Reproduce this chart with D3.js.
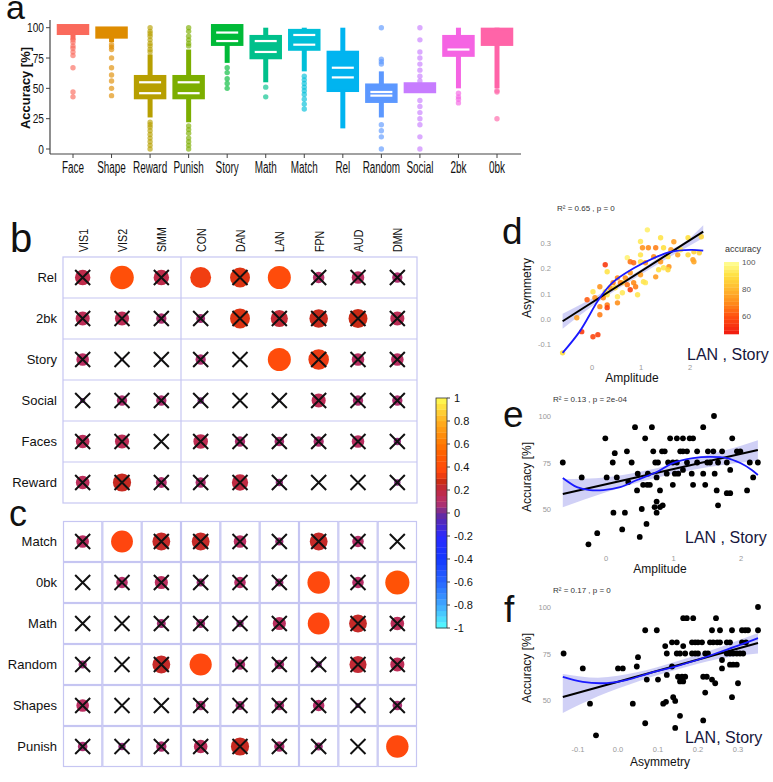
<!DOCTYPE html>
<html lang="en">
<head>
<meta charset="UTF-8">
<title>Task accuracy and network correlations</title>
<script src="https://d3js.org/d3.v7.min.js"></script>
<style>
  body { margin: 0; background: #fff; font-family: "Liberation Sans", Arial, sans-serif; }
  svg { display: block; }
</style>
</head>
<body>
<svg id="fig" width="773" height="782"></svg>
<script>
// ---- panel a: accuracy per task (box stats, in %)
const tasks = ['Face', 'Shape', 'Reward', 'Punish', 'Story', 'Math', 'Match', 'Rel', 'Random', 'Social', '2bk', '0bk'];
const taskColors = ['#FA6A5C', '#DE8C00', '#B79F00', '#7CAE00', '#00BA38', '#00C08B', '#00BFD8', '#00B4F0', '#5C98FF', '#C77CFF', '#F564E3', '#FF64A8'];
const boxQ1 = [95, 92, 42, 42, 86, 75, 82, 48, 39, 47, 77, 86];
const boxQ3 = [102, 100, 60, 60, 102, 93, 98, 80, 53, 54, 93, 99];
const whiskLo = [90, 88, 26, 22, 71, 55, 64, 17, 26, 47, 50, 50];
const whiskHi = [100, 100, 78, 82, 100, 100, 100, 100, 64, 54, 100, 100];
const notchHi = [null, null, 55, 55, 96, 89, 94, 67, 47, null, 82, null];
const notchLo = [null, null, 46, 46, 89, 80, 86, 59, 44, null, null, null];
const outliers = [
  [90, 88, 85, 83, 80, 77, 67, 47, 43],
  [86, 84, 82, 75, 67, 61, 56, 50, 44],
  [100, 97, 95, 93, 90, 87, 85, 82, 80, 22, 20, 18, 15, 12, 9, 6, 3, 0],
  [100, 97, 93, 90, 87, 85, 19, 16, 13, 9, 6, 3, 0],
  [67, 63, 58, 54, 50],
  [51, 43],
  [60, 57, 54, 51, 48, 45, 41, 37, 33],
  [],
  [100, 74, 72, 70, 20, 15, 10, 0],
  [100, 90, 80, 75, 70, 65, 60, 56, 40, 35, 30, 25, 20, 10, 0],
  [46, 43, 41, 38],
  [48, 47, 25]
];
const accTicks = [0, 25, 50, 75, 100];

// ---- panels b, c: correlation of network measure with task accuracy
const nets = ['VIS1', 'VIS2', 'SMM', 'CON', 'DAN', 'LAN', 'FPN', 'AUD', 'DMN'];
const rowsB = ['Rel', '2bk', 'Story', 'Social', 'Faces', 'Reward'];
const rowsC = ['Match', '0bk', 'Math', 'Random', 'Shapes', 'Punish'];
const corrB = [
  [0.18, 0.42, 0.18, 0.33, 0.30, 0.40, 0.10, 0.12, 0.08],
  [0.15, 0.15, 0.08, 0.06, 0.30, 0.22, 0.26, 0.27, 0.15],
  [0.12, 0.01, 0.01, 0.08, 0.00, 0.40, 0.32, 0.12, 0.12],
  [0.02, 0.08, 0.08, 0.03, 0.00, 0.01, 0.15, 0.08, 0.08],
  [0.14, 0.15, 0.00, 0.16, 0.08, 0.07, 0.08, 0.12, 0.04],
  [0.14, 0.25, 0.09, 0.08, 0.20, 0.04, 0.00, 0.00, 0.03]
];
const sigB = [
  [0, 1, 0, 1, 0, 1, 0, 0, 0],
  [0, 0, 0, 0, 0, 0, 0, 0, 0],
  [0, 0, 0, 0, 0, 1, 0, 0, 0],
  [0, 0, 0, 0, 0, 0, 0, 0, 0],
  [0, 0, 0, 0, 0, 0, 0, 0, 0],
  [0, 0, 0, 0, 0, 0, 0, 0, 0]
];
const corrC = [
  [0.12, 0.36, 0.24, 0.24, 0.12, 0.05, 0.24, 0.10, 0.00],
  [0.00, 0.10, 0.13, 0.05, 0.10, 0.05, 0.38, 0.10, 0.44],
  [0.00, 0.00, 0.06, 0.06, 0.04, 0.13, 0.36, 0.24, 0.14],
  [0.05, 0.00, 0.24, 0.37, 0.08, 0.07, 0.03, 0.22, 0.15],
  [0.12, 0.00, 0.00, 0.07, 0.06, 0.07, 0.10, 0.02, 0.07],
  [0.07, 0.04, 0.08, 0.14, 0.25, 0.08, 0.05, 0.00, 0.38]
];
const sigC = [
  [0, 1, 0, 0, 0, 0, 0, 0, 0],
  [0, 0, 0, 0, 0, 0, 1, 0, 1],
  [0, 0, 0, 0, 0, 0, 1, 0, 0],
  [0, 0, 0, 1, 0, 0, 0, 0, 0],
  [0, 0, 0, 0, 0, 0, 0, 0, 0],
  [0, 0, 0, 0, 0, 0, 0, 0, 1]
];
const barTicks = [1, 0.8, 0.6, 0.4, 0.2, 0, -0.2, -0.4, -0.6, -0.8, -1];

// ---- panel d: LAN amplitude vs asymmetry, coloured by Story accuracy
const dAmp = [1.13, 0.99, 1.40, 1.67, 1.96, 2.23, 1.03, 1.15, 1.30, 1.46, 1.61, 1.81, 2.08, 0.99, 1.26, 1.55, 1.75, 1.96, 0.72, 0.78, 0.85, 0.99, 1.09, 1.40, 1.57, 2.06, 2.19, 0.27, 0.31, 0.52, 0.78, 0.99, 1.30, 1.46, 0.43, 0.62, 0.72, 0.85, 0.89, 1.09, 0.16, 0.37, 0.47, 0.02, 0.31, 0.52, 0.23, -0.10, 0.06, 0.31, 0.52, 0.16, 0.31, -0.31, 0.16, -0.21, 0.02, 0.12, -0.60, 0.58, 0.68, 1.05, 0.27, 0.62, 0.78, 0.93, 1.36, 1.55, 2.08];
const dAsym = [0.352, 0.306, 0.321, 0.305, 0.321, 0.325, 0.281, 0.281, 0.281, 0.281, 0.273, 0.273, 0.265, 0.253, 0.246, 0.246, 0.253, 0.253, 0.242, 0.226, 0.222, 0.226, 0.222, 0.226, 0.206, 0.234, 0.261, 0.214, 0.186, 0.162, 0.182, 0.174, 0.166, 0.202, 0.143, 0.143, 0.135, 0.143, 0.127, 0.143, 0.127, 0.123, 0.123, 0.107, 0.095, 0.087, 0.083, 0.075, 0.083, 0.055, 0.063, 0.048, 0.044, 0.004, 0.016, -0.051, -0.071, -0.063, -0.135, 0.143, 0.162, 0.147, 0.107, 0.103, 0.115, 0.095, 0.194, 0.194, 0.226];
const dAcc = [95, 93, 91, 74, 90, 88, 72, 70, 68, 90, 75, 92, 86, 92, 70, 90, 76, 88, 96, 66, 65, 91, 72, 73, 72, 75, 86, 55, 91, 70, 73, 74, 74, 92, 68, 91, 66, 70, 68, 93, 72, 74, 89, 92, 91, 94, 70, 62, 72, 68, 71, 70, 57, 74, 68, 55, 58, 57, 90, 69, 72, 92, 90, 93, 57, 92, 90, 88, 76];
const dFitX = [-0.6, 2.27];
const dFitY = [-0.01, 0.345];
const dLoessX = [-0.6, -0.25, 0.16, 0.43, 0.85, 1.26, 1.6, 2.02, 2.27];
const dLoessY = [-0.135, -0.05, 0.083, 0.145, 0.2, 0.24, 0.265, 0.273, 0.27];
const dBandX = [-0.6, 0, 0.5, 1, 1.5, 2, 2.27];
const dBandLo = [-0.04, 0.05, 0.115, 0.175, 0.235, 0.29, 0.32];
const dBandHi = [0.02, 0.08, 0.137, 0.195, 0.26, 0.32, 0.37];
const accLegendTicks = [100, 80, 60];

// ---- panel e: LAN amplitude vs Story accuracy
const eAmp = [1.60, 0.43, 0.68, 1.44, -0.01, 0.58, 0.95, 1.05, 1.14, 1.24, 1.29, 1.87, 0.13, 0.31, 0.70, 0.83, 0.87, 1.10, 1.14, 1.20, 1.35, 1.51, 1.59, 1.72, 1.94, 1.99, -0.64, 0.10, 0.38, 0.73, 0.77, 0.92, 0.99, 1.05, 1.20, 1.35, 1.50, 1.54, 1.66, 1.79, 2.13, 2.25, -0.36, 0.01, 0.16, 0.33, 0.47, 0.62, 0.75, 0.90, 1.02, 1.07, 1.14, 1.27, 1.44, 1.61, 1.84, 2.18, 0.46, 0.55, 0.61, 0.65, 0.80, 0.99, 1.29, 1.47, 1.64, 1.79, 1.84, 2.09, 0.75, 0.72, 0.80, 1.66, 0.11, 0.28, 0.53, 0.75, 0.84, 0.24, -0.13, -0.26, 0.50, 0.60];
const eAcc = [100, 94, 94, 94, 88, 88, 88, 88, 88, 88, 88, 88, 80, 81, 81, 81, 81, 81, 81, 81, 81, 81, 81, 81, 81, 81, 75, 75, 75, 75, 75, 75, 75, 75, 75, 75, 75, 75, 75, 75, 75, 75, 67, 67, 67, 64.5, 69, 69, 67, 69, 69, 69, 71, 69, 69, 69, 71, 67, 60, 63, 63, 63, 60, 63, 63, 63, 60, 58.5, 58.5, 60, 54, 51, 51, 52, 48, 48, 50, 48, 52, 39, 37, 31, 35, 42];
const eFitX = [-0.64, 2.25];
const eFitY = [58.1, 81.7];
const eLoessX = [-0.64, -0.43, -0.24, -0.04, 0.21, 0.46, 0.76, 0.99, 1.29, 1.54, 1.79, 1.99, 2.16, 2.25];
const eLoessY = [66.7, 61.8, 60.2, 60.2, 61.8, 65.6, 70, 74.7, 77.4, 78, 77.4, 74.7, 71, 68.3];
const eBandX = [-0.64, 0, 0.5, 1, 1.5, 2, 2.25];
const eBandLo = [51, 59, 64.5, 69, 72.5, 75, 76];
const eBandHi = [66, 67, 70, 74, 79, 84, 87];

// ---- panel f: LAN asymmetry vs Story accuracy
const fAsym = [0.35, 0.163, 0.172, 0.188, 0.245, 0.068, 0.097, 0.235, 0.255, 0.285, 0.31, 0.318, 0.325, 0.35, 0.118, 0.135, 0.147, 0.163, 0.185, 0.193, 0.2, 0.21, 0.23, 0.238, 0.248, 0.255, 0.272, 0.28, 0.31, 0.32, -0.136, 0.05, 0.122, 0.147, 0.155, 0.168, 0.185, 0.193, 0.2, 0.218, 0.225, 0.272, 0.28, 0.288, 0.297, 0.305, 0.313, 0.26, -0.088, 0.0, 0.012, 0.047, 0.135, 0.26, 0.28, 0.288, 0.297, 0.072, 0.1, 0.122, 0.15, 0.16, 0.168, 0.155, 0.163, 0.213, 0.222, 0.235, 0.243, 0.3, -0.07, 0.037, 0.068, 0.113, 0.12, 0.138, 0.143, 0.155, 0.143, 0.213, 0.285, -0.055, 0.218];
const fAcc = [100, 94, 94, 94, 94, 87.5, 87.5, 87.5, 87.5, 87.5, 87.5, 87.5, 87.5, 87.5, 79, 81, 81, 79, 81, 81, 81, 81, 81, 81, 81, 81, 81, 81, 81, 81, 75, 73, 75, 75, 75, 75, 75, 75, 75, 75, 75, 75, 75, 75, 75, 75, 75, 71.5, 67, 67, 67, 68, 68, 67, 69, 69, 69, 61, 61, 63.5, 62.5, 62.5, 62.5, 60, 60, 62.5, 62.5, 61, 59, 59, 48, 48, 37.5, 48, 49, 51.5, 49.5, 41.5, 35, 39, 51.5, 31, 54];
const fFitX = [-0.138, 0.35];
const fFitY = [51.6, 80.6];
const fLoessX = [-0.138, -0.088, -0.028, 0.023, 0.08, 0.138, 0.198, 0.255, 0.305, 0.35];
const fLoessY = [62.4, 59.7, 59.1, 60.8, 64.5, 67.7, 71.5, 75.8, 79.6, 83.3];
const fBandX = [-0.138, -0.05, 0.05, 0.15, 0.25, 0.35];
const fBandLo = [43, 52, 60, 66.5, 72, 75];
const fBandHi = [64, 62, 65, 71, 78, 86];

const svg = d3.select('#fig');

function addText(g, txt, x, y, size, opts = {}) {
  let tr = `translate(${x},${y})`;
  if (opts.rotate) tr += ` rotate(${opts.rotate})`;
  if (opts.sx) tr += ` scale(${opts.sx},1)`;
  const t = g.append('text')
    .attr('transform', tr)
    .attr('text-anchor', opts.anchor || 'start')
    .attr('font-size', size)
    .attr('fill', opts.fill || '#111')
    .text(txt);
  if (opts.bold) t.attr('font-weight', 'bold');
  return t;
}

// ================= panel a =================
const xA = d3.scalePoint().domain(tasks).range([73, 497]);
const yA = d3.scaleLinear().domain([0, 100]).range([149, 27.7]);
const gA = svg.append('g');

gA.append('line').attr('x1', 50).attr('x2', 50).attr('y1', 20).attr('y2', 154)
  .attr('stroke', '#444').attr('stroke-width', 1.2);
gA.append('line').attr('x1', 50).attr('x2', 521).attr('y1', 154).attr('y2', 154)
  .attr('stroke', '#444').attr('stroke-width', 1.2);

accTicks.forEach(v => {
  gA.append('line').attr('x1', 46).attr('x2', 50).attr('y1', yA(v)).attr('y2', yA(v)).attr('stroke', '#444');
  addText(gA, v, 44, yA(v) + 4.5, 13, { anchor: 'end', sx: 0.78 });
});

tasks.forEach((t, i) => {
  const cx = xA(t), col = taskColors[i];
  gA.append('line').attr('x1', cx).attr('x2', cx).attr('y1', 154).attr('y2', 158).attr('stroke', '#444');
  addText(gA, t, cx, 173, 16, { anchor: 'middle', sx: 0.62 });

  gA.append('line')
    .attr('x1', cx).attr('x2', cx)
    .attr('y1', yA(whiskLo[i])).attr('y2', yA(whiskHi[i]))
    .attr('stroke', col).attr('stroke-width', 5);
  gA.append('rect')
    .attr('x', cx - 15).attr('width', 30)
    .attr('y', yA(boxQ3[i])).attr('height', yA(boxQ1[i]) - yA(boxQ3[i]))
    .attr('fill', col).attr('stroke', col).attr('stroke-width', 2.5);
  [notchHi[i], notchLo[i]].forEach(v => {
    if (v == null) return;
    gA.append('line')
      .attr('x1', cx - 11).attr('x2', cx + 11)
      .attr('y1', yA(v)).attr('y2', yA(v))
      .attr('stroke', '#fff').attr('stroke-width', 2.2);
  });
  gA.selectAll(null).data(outliers[i]).enter().append('circle')
    .attr('cx', cx).attr('cy', d => yA(d)).attr('r', 2.7)
    .attr('fill', col).attr('opacity', 0.65);
});

addText(gA, 'Accuracy [%]', 30, 88, 12, { anchor: 'middle', rotate: -90, sx: 1.08, bold: true });
addText(gA, 'a', 6, 19, 34);

// ================= panels b, c =================
const corrColor = d3.scaleLinear()
  .domain([-1, -0.8, -0.6, -0.4, -0.2, -0.1, 0, 0.05, 0.1, 0.2, 0.27, 0.35, 0.5, 0.6, 0.8, 1])
  .range(['#55ffff', '#40a8ff', '#2866ff', '#1438ff', '#2a2aff', '#4a28c8', '#6a2a9a', '#a03078', '#b8306a', '#c02a42', '#c82a14', '#ff4510', '#ff5a00', '#ff7800', '#ffb020', '#ffff55']);
const rSize = d3.scaleSqrt().domain([0, 1]).range([0, 18.2]);
const xC = d3.scaleBand().domain(nets).range([63, 417]);
const gridCol = '#c6c6f2';

function drawCorr(rows, vals, sig, top, bottom, fullGrid) {
  const y = d3.scaleBand().domain(rows).range([top, bottom]);
  const g = svg.append('g');
  if (fullGrid) {
    rows.forEach(r => nets.forEach(n => {
      g.append('rect').attr('x', xC(n) + 0.5).attr('y', y(r) + 0.5)
        .attr('width', xC.bandwidth() - 1).attr('height', y.bandwidth() - 1)
        .attr('fill', 'none').attr('stroke', gridCol).attr('stroke-width', 1.2);
    }));
  } else {
    g.append('rect').attr('x', 63).attr('y', top).attr('width', 354).attr('height', bottom - top)
      .attr('fill', 'none').attr('stroke', gridCol).attr('stroke-width', 1.2);
    rows.slice(1).forEach(r => {
      g.append('line').attr('x1', 63).attr('x2', 417).attr('y1', y(r)).attr('y2', y(r))
        .attr('stroke', gridCol).attr('stroke-width', 1.2);
    });
    g.append('line').attr('x1', xC('CON')).attr('x2', xC('CON')).attr('y1', top).attr('y2', bottom)
      .attr('stroke', gridCol).attr('stroke-width', 1.2);
  }
  rows.forEach((r, i) => {
    const cy = y(r) + y.bandwidth() / 2;
    addText(g, r, 57, cy + 4.5, 13, { anchor: 'end' });
    nets.forEach((n, j) => {
      const cx = xC(n) + xC.bandwidth() / 2;
      const v = vals[i][j];
      if (v > 0) {
        g.append('circle').attr('cx', cx).attr('cy', cy).attr('r', rSize(v))
          .attr('fill', corrColor(v));
      }
      if (!sig[i][j]) {
        g.append('path')
          .attr('d', `M${cx - 7.5},${cy - 7.5}L${cx + 7.5},${cy + 7.5}M${cx - 7.5},${cy + 7.5}L${cx + 7.5},${cy - 7.5}`)
          .attr('stroke', '#111').attr('stroke-width', 2);
      }
    });
  });
}

drawCorr(rowsB, corrB, sigB, 257, 503, false);
drawCorr(rowsC, corrC, sigC, 521, 767, true);

nets.forEach(n => {
  addText(svg, n, xC(n) + xC.bandwidth() / 2 + 5, 252, 13, { rotate: -90, sx: 0.82 });
});
addText(svg, 'b', 10, 252, 40);
addText(svg, 'c', 9, 526, 36);

// colour bar
const yBar = d3.scaleLinear().domain([-1, 1]).range([628, 398]);
const gBar = svg.append('g');
const step = 0.05;
d3.range(-1, 1 - step / 2, step).forEach(v => {
  gBar.append('rect').attr('x', 436).attr('width', 11)
    .attr('y', yBar(v + step)).attr('height', yBar(v) - yBar(v + step) + 0.3)
    .attr('fill', corrColor(v + step / 2));
});
gBar.append('rect').attr('x', 436).attr('width', 11).attr('y', 398).attr('height', 230)
  .attr('fill', 'none').attr('stroke', '#333').attr('stroke-width', 0.8);
barTicks.forEach(v => {
  gBar.append('line').attr('x1', 447).attr('x2', 450).attr('y1', yBar(v)).attr('y2', yBar(v)).attr('stroke', '#444');
  addText(gBar, String(v), 454, yBar(v) + 4, 11);
});

// ================= panels d, e, f =================
const accColor = d3.scaleLinear()
  .domain([47, 60, 70, 80, 90, 100])
  .range(['#f01a10', '#ff5010', '#ff8c1a', '#ffb830', '#ffe040', '#ffff99']);

function scatterPanel(p) {
  const g = svg.append('g');
  const band = d3.area()
    .x(i => p.x(p.bandX[i])).y0(i => p.y(p.bandLo[i])).y1(i => p.y(p.bandHi[i]))
    .curve(d3.curveMonotoneX);
  g.append('path').attr('d', band(d3.range(p.bandX.length)))
    .attr('fill', '#c4c4f4').attr('opacity', 0.8);

  g.selectAll(null).data(d3.range(p.px.length)).enter().append('circle')
    .attr('cx', i => p.x(p.px[i])).attr('cy', i => p.y(p.py[i])).attr('r', p.pc ? 2.7 : 2.9)
    .attr('fill', i => p.pc ? accColor(p.pc[i]) : '#000')
    .attr('opacity', p.pc ? 0.9 : 1);

  const line = d3.line().x(i => p.x(p.fitX[i])).y(i => p.y(p.fitY[i]));
  g.append('path').attr('d', line(d3.range(p.fitX.length)))
    .attr('fill', 'none').attr('stroke', '#000').attr('stroke-width', 2);
  const curve = d3.line().x(i => p.x(p.loX[i])).y(i => p.y(p.loY[i])).curve(d3.curveCatmullRom);
  g.append('path').attr('d', curve(d3.range(p.loX.length)))
    .attr('fill', 'none').attr('stroke', '#1a1aff').attr('stroke-width', 1.8);

  p.xTicks.forEach((v, i) => addText(g, p.xTickLabels[i], p.x(v), p.xTickY, 7.5, { anchor: 'middle', fill: '#999' }));
  p.yTicks.forEach((v, i) => addText(g, p.yTickLabels[i], 551, p.y(v) + 3, 7.5, { anchor: 'end', fill: '#999' }));

  addText(g, p.xTitle, p.xTitlePos[0], p.xTitlePos[1], 12, { anchor: 'middle' });
  addText(g, p.yTitle, 531, p.yTitleY, 12, { anchor: 'middle', rotate: -90 });
  addText(g, p.stat, p.statPos[0], p.statPos[1], 8, { fill: '#333' });
  addText(g, p.tag, p.tagPos[0], p.tagPos[1], 16, { fill: '#16163c' });
  addText(g, p.letter, p.letterPos[0], p.letterPos[1], 37);
}

scatterPanel({
  x: d3.scaleLinear().domain([0, 2]).range([592, 690]),
  y: d3.scaleLinear().domain([-0.1, 0.3]).range([344, 243]),
  px: dAmp, py: dAsym, pc: dAcc,
  fitX: dFitX, fitY: dFitY, loX: dLoessX, loY: dLoessY,
  bandX: dBandX, bandLo: dBandLo, bandHi: dBandHi,
  xTicks: [0, 1, 2], xTickLabels: ['0', '1', '2'], xTickY: 370,
  yTicks: [0.3, 0.2, 0.1, 0, -0.1], yTickLabels: ['0.3', '0.2', '0.1', '0.0', '-0.1'],
  xTitle: 'Amplitude', xTitlePos: [632, 382], yTitle: 'Asymmetry', yTitleY: 288,
  stat: 'R² = 0.65 , p = 0', statPos: [557, 211],
  tag: 'LAN , Story', tagPos: [687, 360], letter: 'd', letterPos: [502, 244]
});

scatterPanel({
  x: d3.scaleLinear().domain([0, 2]).range([606, 741]),
  y: d3.scaleLinear().domain([50, 100]).range([509, 416]),
  px: eAmp, py: eAcc, pc: null,
  fitX: eFitX, fitY: eFitY, loX: eLoessX, loY: eLoessY,
  bandX: eBandX, bandLo: eBandLo, bandHi: eBandHi,
  xTicks: [0, 1, 2], xTickLabels: ['0', '1', '2'], xTickY: 561,
  yTicks: [100, 75, 50], yTickLabels: ['100', '75', '50'],
  xTitle: 'Amplitude', xTitlePos: [660, 573], yTitle: 'Accuracy [%]', yTitleY: 477,
  stat: 'R² = 0.13 , p = 2e-04', statPos: [553, 402],
  tag: 'LAN , Story', tagPos: [685, 543], letter: 'e', letterPos: [503, 427]
});

scatterPanel({
  x: d3.scaleLinear().domain([0, 0.3]).range([618, 738]),
  y: d3.scaleLinear().domain([50, 100]).range([700, 607]),
  px: fAsym, py: fAcc, pc: null,
  fitX: fFitX, fitY: fFitY, loX: fLoessX, loY: fLoessY,
  bandX: fBandX, bandLo: fBandLo, bandHi: fBandHi,
  xTicks: [-0.1, 0, 0.1, 0.2, 0.3], xTickLabels: ['-0.1', '0.0', '0.1', '0.2', '0.3'], xTickY: 752,
  yTicks: [100, 75, 50], yTickLabels: ['100', '75', '50'],
  xTitle: 'Asymmetry', xTitlePos: [660, 766], yTitle: 'Accuracy [%]', yTitleY: 668,
  stat: 'R² = 0.17 , p = 0', statPos: [553, 593],
  tag: 'LAN, Story', tagPos: [685, 743], letter: 'f', letterPos: [504, 622]
});

// accuracy legend of panel d
const yLeg = d3.scaleLinear().domain([47, 100]).range([334, 262]);
const gLeg = svg.append('g');
d3.range(47, 100, 2.65).forEach(v => {
  gLeg.append('rect').attr('x', 724).attr('width', 15)
    .attr('y', yLeg(Math.min(v + 2.65, 100))).attr('height', yLeg(v) - yLeg(Math.min(v + 2.65, 100)) + 0.3)
    .attr('fill', accColor(v + 1.3));
});
addText(gLeg, 'accuracy', 743, 252, 9, { anchor: 'middle', fill: '#333' });
accLegendTicks.forEach(v => addText(gLeg, v, 742, yLeg(v) + 3, 8, { fill: '#555' }));
</script>
</body>
</html>
